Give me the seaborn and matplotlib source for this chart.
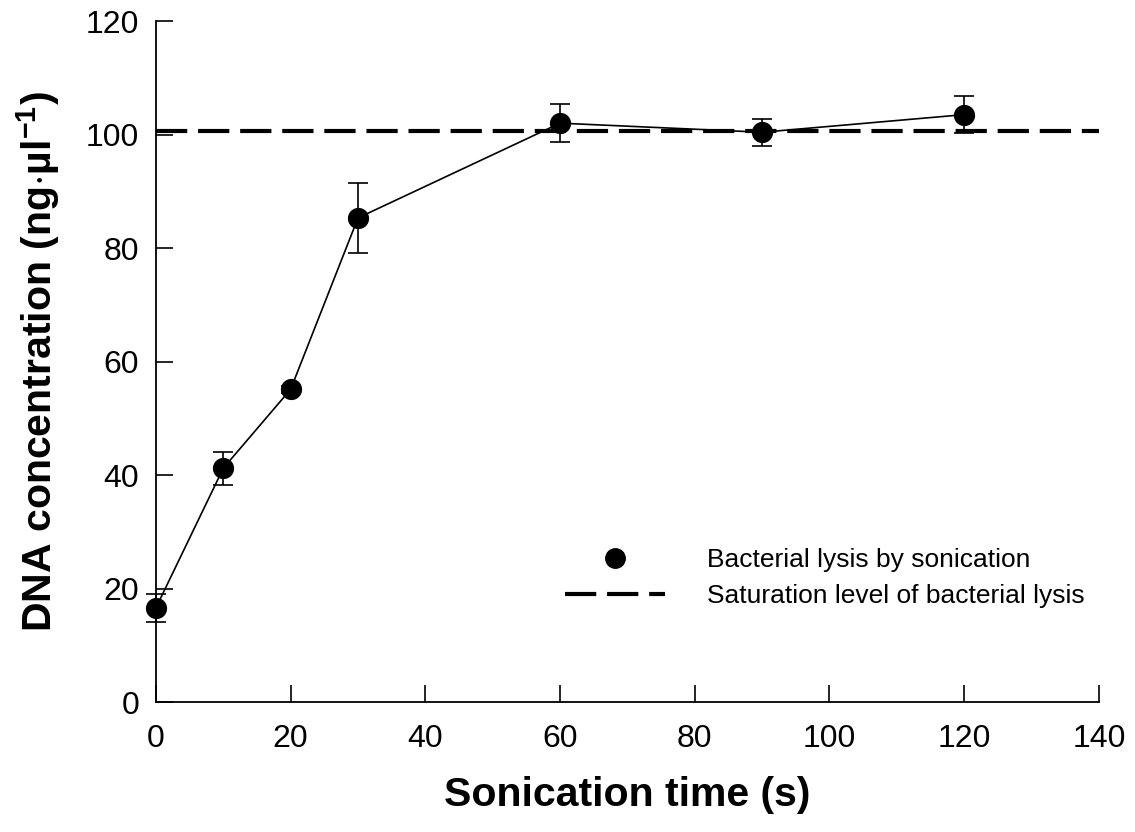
import numpy as np
import pandas as pd
import seaborn as sns
import matplotlib.pyplot as plt
from matplotlib.lines import Line2D

# values
time_s = [0, 10, 20, 30, 60, 90, 120]
dna_conc = [16.6, 41.2, 55.1, 85.3, 102.0, 100.4, 103.5]
dna_err = [2.5, 2.9, 0.6, 6.1, 3.3, 2.4, 3.3]
saturation = 100.6

xticks = [0, 20, 40, 60, 80, 100, 120, 140]
yticks = [0, 20, 40, 60, 80, 100, 120]

df = pd.DataFrame({'time': time_s, 'conc': dna_conc, 'err': dna_err})

sns.set_theme(style='ticks')
plt.rcParams['font.family'] = ['Liberation Sans', 'DejaVu Sans']
plt.rcParams['mathtext.fontset'] = 'custom'
plt.rcParams['mathtext.rm'] = 'Liberation Sans'
plt.rcParams['mathtext.bf'] = 'Liberation Sans:bold'
plt.rcParams['text.color'] = 'black'
plt.rcParams['axes.labelcolor'] = 'black'

fig = plt.figure(figsize=(11.35, 8.32), dpi=100)
ax = fig.add_axes([0.1374, 0.15625, 0.8308, 0.8185])

dash = (0, (7.5, 2.6))
ax.axhline(saturation, color='black', lw=3, ls=dash, zorder=1)

ax.errorbar(df['time'], df['conc'], yerr=df['err'], fmt='none', ecolor='black',
            elinewidth=1.2, capsize=7.5, capthick=1.2, zorder=2, clip_on=False)
sns.lineplot(data=df, x='time', y='conc', color='black', lw=1.2, ax=ax, zorder=3)
sns.scatterplot(data=df, x='time', y='conc', color='black', s=200, edgecolor='black',
                ax=ax, zorder=4, clip_on=False)

ax.set_xlim(0, 140)
ax.set_ylim(0, 120)
ax.set_xticks(xticks)
ax.set_yticks(yticks)
ax.tick_params(direction='in', length=12, width=1.2, labelsize=23, colors='black')
ax.tick_params(axis='x', pad=16)
ax.tick_params(axis='y', pad=12)
for s in ['top', 'right']:
    ax.spines[s].set_visible(False)
for s in ['left', 'bottom']:
    ax.spines[s].set_linewidth(1.3)
    ax.spines[s].set_color('black')

ax.set_xlabel('Sonication time (s)', fontsize=29.5, fontweight='bold', color='black')
ax.set_ylabel(r'DNA concentration (ng$\cdot$µl$^{\mathbf{-1}}$)', fontsize=29.5,
              fontweight='bold', color='black')
ax.xaxis.set_label_coords(0.5, -0.108)
ax.yaxis.set_label_coords(-0.0997, 0.5)

handles = [
    Line2D([], [], color='black', marker='o', markersize=14, ls='none'),
    Line2D([], [], color='black', lw=3, ls=dash),
]
labels = ['Bacterial lysis by sonication', 'Saturation level of bacterial lysis']
leg = ax.legend(handles, labels, loc='center left', bbox_to_anchor=(0.4337, 0.182),
                frameon=False, fontsize=19, handlelength=3.8, handletextpad=1.6,
                labelspacing=0.45, borderpad=0, borderaxespad=0)
for t in leg.get_texts():
    t.set_color('black')

fig.savefig('out.png', dpi=100)
